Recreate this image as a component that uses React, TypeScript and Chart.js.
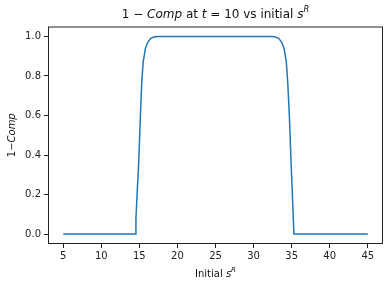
import React, { useEffect, useRef } from 'react';
import { Chart, registerables } from 'chart.js';
Chart.register(...registerables);

const initialSR = [5, 14.45, 14.55, 14.7, 14.9, 15.1, 15.3, 15.5, 15.8, 16.1, 16.5, 17.0, 17.6, 32.2, 32.8, 33.3, 33.7, 34.0, 34.3, 34.5, 34.7, 34.95, 35.15, 35.3, 45];
const oneMinusComp = [0, 0, 0.08, 0.2, 0.35, 0.56, 0.76, 0.87, 0.94, 0.97, 0.99, 0.998, 1.0, 1.0, 0.998, 0.99, 0.97, 0.94, 0.87, 0.76, 0.6, 0.34, 0.15, 0, 0];
const xTickValues = [5, 10, 15, 20, 25, 30, 35, 40, 45];
const yTickValues = [0, 0.2, 0.4, 0.6, 0.8, 1.0];

type Part = { t: string; i?: boolean; sup?: boolean };
const FAMILY = "'DejaVu Sans'";

function fontFor(p: Part, size: number) {
  const s = p.sup ? size * 0.7 : size;
  return `${p.i ? 'italic ' : ''}${s}px ${FAMILY}`;
}

function drawRich(ctx: CanvasRenderingContext2D, parts: Part[], cx: number, cy: number, size: number) {
  let total = 0;
  const widths = parts.map((p) => {
    ctx.font = fontFor(p, size);
    const w = ctx.measureText(p.t).width;
    total += w;
    return w;
  });
  let x = cx - total / 2;
  ctx.textBaseline = 'middle';
  ctx.textAlign = 'left';
  parts.forEach((p, k) => {
    ctx.font = fontFor(p, size);
    ctx.fillText(p.t, x, p.sup ? cy - size * 0.4 : cy);
    x += widths[k];
  });
}

export default function App() {
  const ref = useRef<HTMLCanvasElement>(null);
  useEffect(() => {
    if (!ref.current) return;
    const mathLabels = {
      id: 'mathLabels',
      afterDraw(chart: any) {
        const { ctx, chartArea: a } = chart;
        ctx.save();
        ctx.strokeStyle = '#222';
        ctx.lineWidth = 1;
        ctx.strokeRect(a.left + 0.5, a.top + 0.5, a.right - a.left - 1, a.bottom - a.top - 1);
        ctx.fillStyle = '#111';
        drawRich(ctx, [
          { t: '1' }, { t: ' − ' }, { t: 'Comp', i: true }, { t: ' at ' }, { t: 't', i: true },
          { t: ' = ' }, { t: '10 vs initial ' }, { t: 's', i: true }, { t: 'R', i: true, sup: true },
        ], (a.left + a.right) / 2, 15, 12);
        drawRich(ctx, [{ t: 'Initial ' }, { t: 's', i: true }, { t: 'R', i: true, sup: true }], (a.left + a.right) / 2, 274, 10);
        ctx.translate(12, (a.top + a.bottom) / 2);
        ctx.rotate(-Math.PI / 2);
        drawRich(ctx, [{ t: '1' }, { t: '−' }, { t: 'Comp', i: true }], 0, 0, 10);
        ctx.restore();
      },
    };
    const chart = new Chart(ref.current, {
      type: 'line',
      data: {
        datasets: [{
          data: initialSR.map((x, k) => ({ x, y: oneMinusComp[k] })),
          borderColor: '#1f77b4',
          borderWidth: 1.5,
          pointRadius: 0,
          tension: 0,
          fill: false,
        }],
      },
      options: {
        animation: false,
        responsive: false,
        devicePixelRatio: 1,
        layout: { padding: { top: 26.5, right: 7, left: 0, bottom: 0 } },
        plugins: { legend: { display: false }, title: { display: false }, tooltip: { enabled: false } },
        scales: {
          x: {
            type: 'linear',
            min: 3,
            max: 47,
            afterBuildTicks: (s: any) => { s.ticks = xTickValues.map((v) => ({ value: v })); },
            afterFit: (s: any) => { s.height = 42; },
            grid: { display: true, drawOnChartArea: false, drawTicks: true, tickLength: 4, color: '#222' },
            border: { display: false },
            ticks: { color: '#222', font: { family: 'DejaVu Sans', size: 10 }, padding: 2, maxRotation: 0, callback: (v: any) => String(v) },
          },
          y: {
            type: 'linear',
            min: -0.05,
            max: 1.05,
            afterBuildTicks: (s: any) => { s.ticks = yTickValues.map((v) => ({ value: v })); },
            afterFit: (s: any) => { s.width = 48; },
            grid: { display: true, drawOnChartArea: false, drawTicks: true, tickLength: 4, color: '#222' },
            border: { display: false },
            ticks: { color: '#222', font: { family: 'DejaVu Sans', size: 10 }, padding: 3, callback: (v: any) => Number(v).toFixed(1) },
          },
        },
      },
      plugins: [mathLabels],
    } as any);
    return () => chart.destroy();
  }, []);
  return (
    <div style={{ position: 'absolute', left: 0, top: 0, width: 390, height: 286, background: '#fff' }}>
      <canvas ref={ref} width={390} height={286} style={{ width: 390, height: 286 }} />
    </div>
  );
}
